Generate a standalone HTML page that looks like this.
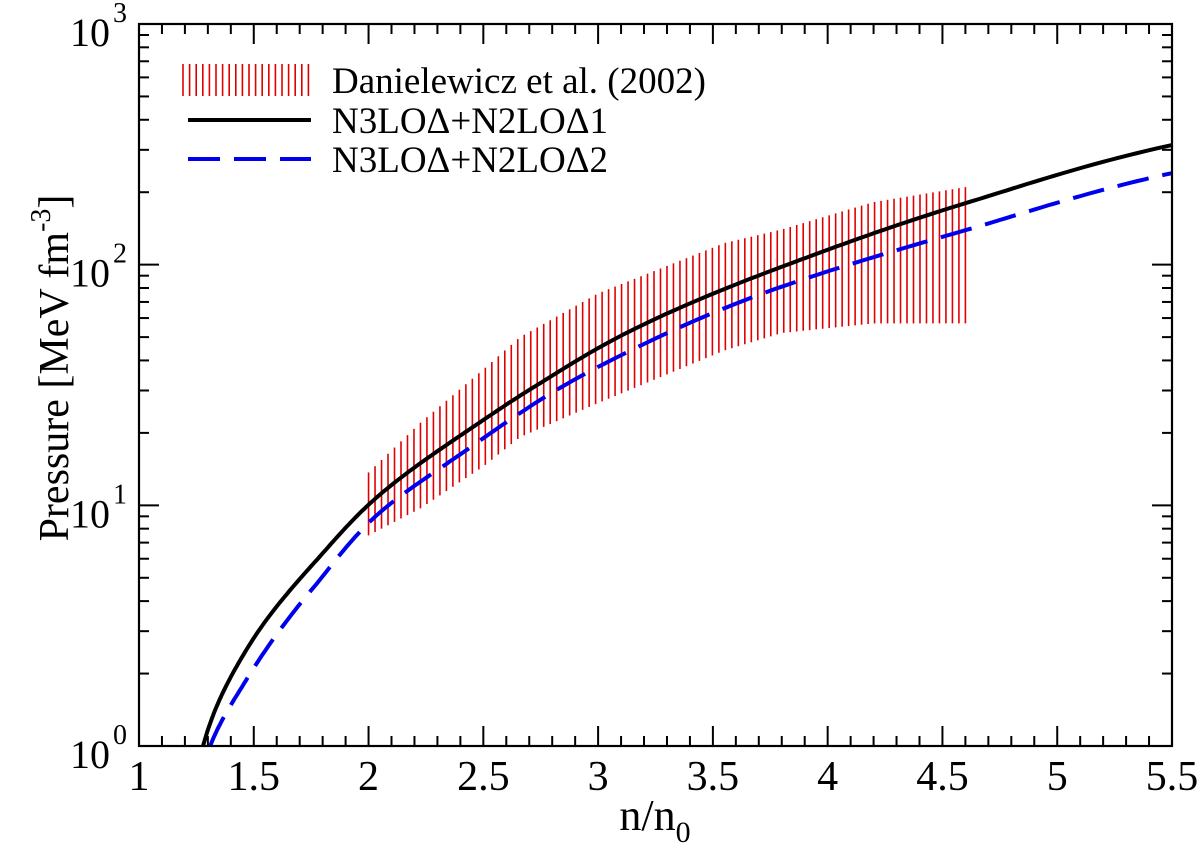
<!DOCTYPE html>
<html><head><meta charset="utf-8">
<style>
html,body{margin:0;padding:0;background:#fff;}
svg{display:block;}
svg text{font-family:"Liberation Serif","DejaVu Serif",serif;}
</style></head>
<body>
<svg id="chart" width="1200" height="849" viewBox="0 0 1200 849" xmlns="http://www.w3.org/2000/svg">
  <g id="band"></g>
  <g id="curves"></g>
  <g id="axes"></g>
  <g id="legend">
    <g id="legband"></g>
    <text x="332" y="93" font-size="37">Danielewicz et al. (2002)</text>
    <line x1="188" y1="120" x2="311" y2="120" stroke="#000" stroke-width="4"/>
    <text x="332" y="133" font-size="37">N3LOΔ+N2LOΔ1</text>
    <line x1="188" y1="159" x2="311" y2="159" stroke="#0000ee" stroke-width="4" stroke-dasharray="32,14"/>
    <text x="332" y="172" font-size="37">N3LOΔ+N2LOΔ2</text>
  </g>
  <text x="655" y="830" font-size="44" text-anchor="middle">n/n<tspan font-size="30" dy="12">0</tspan></text>
  <text transform="translate(68,368) rotate(-90)" font-size="42" text-anchor="middle">Pressure [MeV fm<tspan font-size="28" dy="-18">-3</tspan><tspan dy="18">]</tspan></text>
</svg>
<script>
const bandX = [2.0, 2.225, 2.5, 2.66, 3.0, 3.55, 3.8, 4.2, 4.6];
const bandLow = [7.5, 9.7, 14.5, 19.2, 26.6, 44, 52, 57, 57];
const bandHigh = [13.7, 22, 36.7, 50, 76, 123, 140, 182, 210];
const curve1X = [1.279, 1.47, 1.758, 2.036, 2.4, 2.72, 3.0, 3.8, 4.6, 5.5];
const curve1Y = [1.0, 2.53, 5.7, 10.8, 19.5, 31, 45, 98, 180, 314];
const curve2X = [1.31, 1.47, 1.758, 2.036, 2.4, 3.0, 3.8, 4.6, 5.5];
const curve2Y = [1.0, 1.90, 4.53, 9.1, 16.3, 37.6, 81, 139, 240];
const xTicks = [1, 1.5, 2, 2.5, 3, 3.5, 4, 4.5, 5, 5.5];
const xTickLabels = ["1", "1.5", "2", "2.5", "3", "3.5", "4", "4.5", "5", "5.5"];
const yDecades = [0, 1, 2, 3];

const L = 139, R = 1172, T = 24, B = 746;
const NS = "http://www.w3.org/2000/svg";
function sx(v){ return L + (v - 1) / 4.5 * (R - L); }
function sy(v){ return B - Math.log10(v) / 3 * (B - T); }
function mk(tag, attrs, parent){
  const e = document.createElementNS(NS, tag);
  for (const k in attrs) e.setAttribute(k, attrs[k]);
  parent.appendChild(e); return e;
}
function interpLog(xs, ys, x){
  for (let i = 0; i < xs.length - 1; i++){
    if (x <= xs[i+1] + 1e-9){
      const t = (x - xs[i]) / (xs[i+1] - xs[i]);
      return Math.pow(10, Math.log10(ys[i]) + t * (Math.log10(ys[i+1]) - Math.log10(ys[i])));
    }
  }
  return ys[ys.length - 1];
}
// monotone cubic interpolation on linear pressure, drawn on log axis
function monoPath(xs, ys){
  const n = xs.length, ly = ys.slice();
  const d = [], m = new Array(n);
  for (let i = 0; i < n - 1; i++) d.push((ly[i+1] - ly[i]) / (xs[i+1] - xs[i]));
  m[0] = d[0]; m[n-1] = d[n-2];
  for (let i = 1; i < n - 1; i++){
    if (d[i-1] * d[i] <= 0) m[i] = 0;
    else { const w1 = 2*(xs[i+1]-xs[i]) + (xs[i]-xs[i-1]), w2 = (xs[i+1]-xs[i]) + 2*(xs[i]-xs[i-1]);
      m[i] = (w1 + w2) / (w1 / d[i-1] + w2 / d[i]); }
  }
  let path = "";
  for (let i = 0; i < n - 1; i++){
    const h = xs[i+1] - xs[i];
    for (let s = 0; s <= 30; s++){
      if (i > 0 && s === 0) continue;
      const t = s / 30, x = xs[i] + t * h;
      const h00 = 2*t*t*t - 3*t*t + 1, h10 = t*t*t - 2*t*t + t, h01 = -2*t*t*t + 3*t*t, h11 = t*t*t - t*t;
      const y = Math.max(0.5, h00*ly[i] + h10*h*m[i] + h01*ly[i+1] + h11*h*m[i+1]);
      path += (path ? " L" : "M") + sx(x).toFixed(1) + "," + sy(y).toFixed(1);
    }
  }
  return path;
}

const band = document.getElementById("band");
const x0 = bandX[0], x1 = bandX[bandX.length - 1];
const nLines = 92;
for (let i = 0; i <= nLines; i++){
  const x = x0 + (x1 - x0) * i / nLines;
  const ln = mk("line", {x1: sx(x), x2: sx(x), y1: sy(interpLog(bandX, bandHigh, x)), y2: sy(interpLog(bandX, bandLow, x)), stroke: "#e00000", "stroke-width": 1.6}, band);
  
  
}
const lb = document.getElementById("legband");
for (let i = 0; i < 20; i++){
  const ln = mk("line", {x1: 183 + i * 6.6, x2: 183 + i * 6.6, y1: 64, y2: 96, stroke: "#e00000", "stroke-width": 1.6}, lb);
  
  
}

const curves = document.getElementById("curves");
const defs = mk("defs", {}, curves);
const cp = mk("clipPath", {id: "clip"}, defs);
mk("rect", {x: L, y: T, width: R - L, height: B - T}, cp);
const c1 = mk("path", {d: monoPath(curve1X, curve1Y), fill: "none", stroke: "#000", "stroke-width": 4, "clip-path": "url(#clip)"}, curves);


const c2 = mk("path", {d: monoPath(curve2X, curve2Y), fill: "none", stroke: "#0000ee", "stroke-width": 4, "stroke-dasharray": "32,14", "clip-path": "url(#clip)"}, curves);



const axes = document.getElementById("axes");
const frame = mk("rect", {x: L, y: T, width: R - L, height: B - T, fill: "none", stroke: "#000", "stroke-width": 2.2}, axes);


for (let k = 0; k <= 45; k++){
  const v = 1 + k * 0.1;
  const len = (k % 5 === 0) ? 20 : 10;
  const X = sx(v);
  mk("line", {x1: X, x2: X, y1: B, y2: B - len, stroke: "#000", "stroke-width": 2}, axes);
  mk("line", {x1: X, x2: X, y1: T, y2: T + len, stroke: "#000", "stroke-width": 2}, axes);
}
xTicks.forEach((v, i) => {
  const t = mk("text", {x: sx(v), y: 790, "font-size": 42, "text-anchor": "middle"}, axes);
  t.textContent = xTickLabels[i];
  
  
});
for (let d = 0; d < 3; d++){
  for (let m = 1; m <= 9; m++){
    const v = m * Math.pow(10, d);
    const len = m === 1 ? 20 : 10;
    const Y = sy(v);
    mk("line", {x1: L, x2: L + len, y1: Y, y2: Y, stroke: "#000", "stroke-width": 2}, axes);
    mk("line", {x1: R, x2: R - len, y1: Y, y2: Y, stroke: "#000", "stroke-width": 2}, axes);
  }
}
yDecades.forEach(d => {
  const t = mk("text", {x: 110, y: sy(Math.pow(10, d)) + 22, "font-size": 40, "text-anchor": "end"}, axes);
  t.textContent = "10";
  const s = mk("tspan", {x: 120, dy: -24, "font-size": 28, "text-anchor": "middle"}, t);
  s.textContent = String(d);
  
  
});
</script>
</body></html>
